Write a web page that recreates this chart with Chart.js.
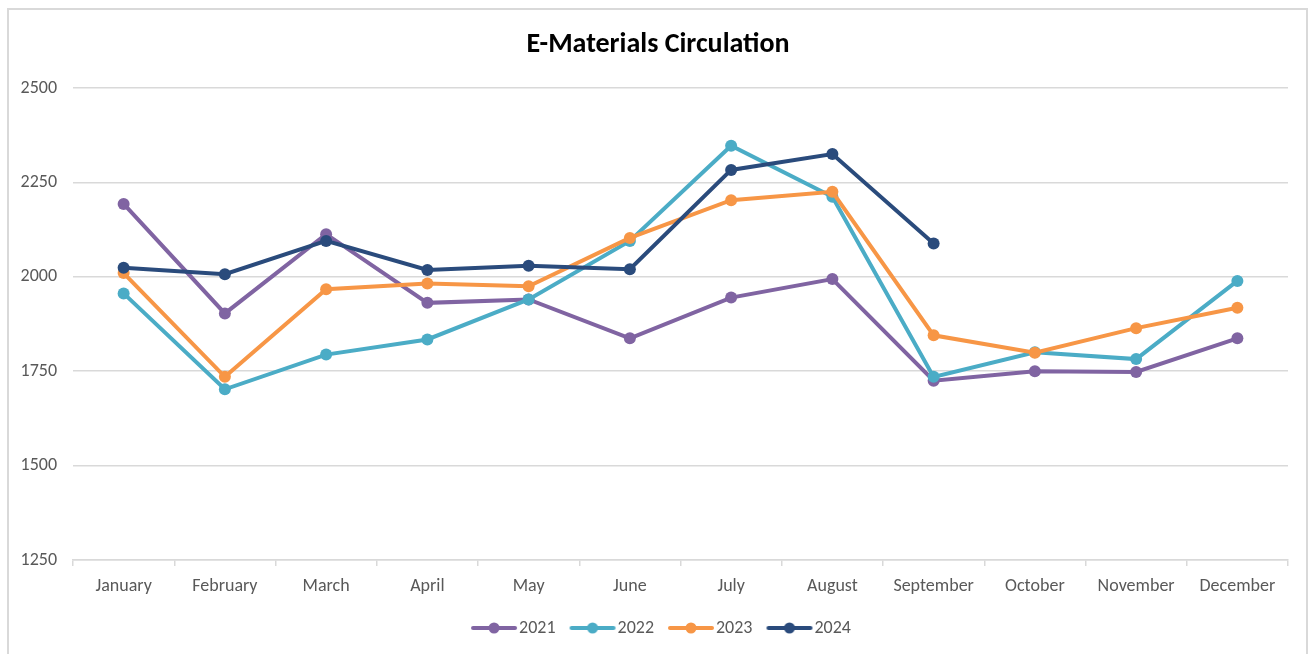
<!DOCTYPE html>
<html>
<head>
<meta charset="utf-8">
<script src="https://cdn.jsdelivr.net/npm/chart.js@4.4.1/dist/chart.umd.min.js"></script>
<style>
  body { margin: 0; background: #fff; }
  #wrap { position: relative; width: 1309px; height: 654px; }
  #frame { position: absolute; left: 7px; top: 8px; width: 1297px; height: 660px;
           border: 2px solid #d9d9d9; pointer-events: none; }
</style>
</head>
<body>
<div id="wrap">
  <canvas id="chart"></canvas>
  <div id="frame"></div>
</div>
<script>
// Monthly e-materials circulation per year
const months = ['January', 'February', 'March', 'April', 'May', 'June',
                'July', 'August', 'September', 'October', 'November', 'December'];
const years = ['2021', '2022', '2023', '2024'];
const circ2021 = [2193, 1903, 2113, 1931, 1940, 1837, 1945, 1994, 1725, 1750, 1748, 1837];
const circ2022 = [1956, 1702, 1794, 1834, 1940, 2095, 2347, 2212, 1735, 1800, 1782, 1989];
const circ2023 = [2010, 1735, 1967, 1982, 1975, 2103, 2203, 2225, 1845, 1799, 1864, 1918];
const circ2024 = [2024, 2007, 2095, 2018, 2029, 2020, 2283, 2325, 2088];
const yTicks = [1250, 1500, 1750, 2000, 2250, 2500];

const colors = ['#8064A2', '#4BACC6', '#F79646', '#2A4B7C'];
const seriesData = [circ2021, circ2022, circ2023, circ2024];

const fontFamily = 'Carlito, Calibri, Lato, sans-serif';
const textColor = '#595959';
const gridColor = '#d9d9d9';

// little line-with-dot icon for each legend entry
function legendIcon(color) {
    const c = document.createElement('canvas');
    c.width = 53;
    c.height = 14;
    const g = c.getContext('2d');
    g.strokeStyle = color;
    g.lineWidth = 4;
    g.lineCap = 'round';
    g.beginPath();
    g.moveTo(8, 7);
    g.lineTo(50, 7);
    g.stroke();
    g.fillStyle = color;
    g.beginPath();
    g.arc(29, 7, 5.5, 0, Math.PI * 2);
    g.fill();
    return c;
}

// nudge title and legend so they centre like the original (which centres over the whole frame)
const shiftBlocks = {
    id: 'shiftBlocks',
    afterLayout(chart) {
        if (chart.titleBlock) chart.titleBlock.left = 28;
        if (chart.legend) chart.legend.left = 36;
    }
};

const datasets = years.map((yr, i) => ({
    label: yr,
    data: seriesData[i],
    borderColor: colors[i],
    backgroundColor: colors[i],
    borderWidth: 4,
    pointRadius: 6,
    pointHoverRadius: 6,
    pointBorderWidth: 0,
    tension: 0,
    order: years.length - i   // later years painted on top, like the original
}));

const ctx = document.getElementById('chart').getContext('2d');
new Chart(ctx, {
    type: 'line',
    data: { labels: months, datasets: datasets },
    plugins: [shiftBlocks],
    options: {
        responsive: true,
        maintainAspectRatio: false,
        animation: false,
        layout: { padding: { left: 0, right: 21, top: 0, bottom: 7 } },
        plugins: {
            title: {
                display: true,
                text: 'E-Materials Circulation',
                color: '#000',
                font: { family: fontFamily, size: 28, weight: 'bold' },
                padding: { top: 28, bottom: 26.4 }
            },
            legend: {
                position: 'bottom',
                labels: {
                    usePointStyle: true,
                    pointStyleWidth: 37,
                    padding: 16,
                    color: textColor,
                    font: { family: fontFamily, size: 18 },
                    generateLabels: function (chart) {
                        return chart.data.datasets.map((ds, i) => ({
                            text: ds.label,
                            fillStyle: ds.borderColor,
                            strokeStyle: ds.borderColor,
                            lineWidth: 0,
                            pointStyle: legendIcon(ds.borderColor),
                            fontColor: textColor,
                            hidden: !chart.isDatasetVisible(i),
                            datasetIndex: i
                        }));
                    }
                }
            },
            tooltip: { enabled: false }
        },
        scales: {
            x: {
                offset: true,
                grid: {
                    offset: true,
                    drawOnChartArea: false,
                    drawTicks: true,
                    tickLength: 6,
                    color: gridColor,
                    lineWidth: 1.5
                },
                border: { display: true, color: gridColor, width: 1.5 },
                ticks: {
                    color: textColor,
                    padding: 10,
                    maxRotation: 0,
                    font: { family: fontFamily, size: 18 }
                },
                afterFit: function (scale) { scale.height = 43; }
            },
            y: {
                min: yTicks[0],
                max: yTicks[yTicks.length - 1],
                afterBuildTicks: function (scale) {
                    scale.ticks = yTicks.map(v => ({ value: v }));
                },
                grid: { color: gridColor, lineWidth: 1.5, drawTicks: false },
                border: { display: false },
                ticks: {
                    color: textColor,
                    padding: 16,
                    font: { family: fontFamily, size: 18 },
                    callback: function (value) { return String(value); }
                },
                afterFit: function (scale) { scale.width = 73; }
            }
        }
    }
});
</script>
</body>
</html>
